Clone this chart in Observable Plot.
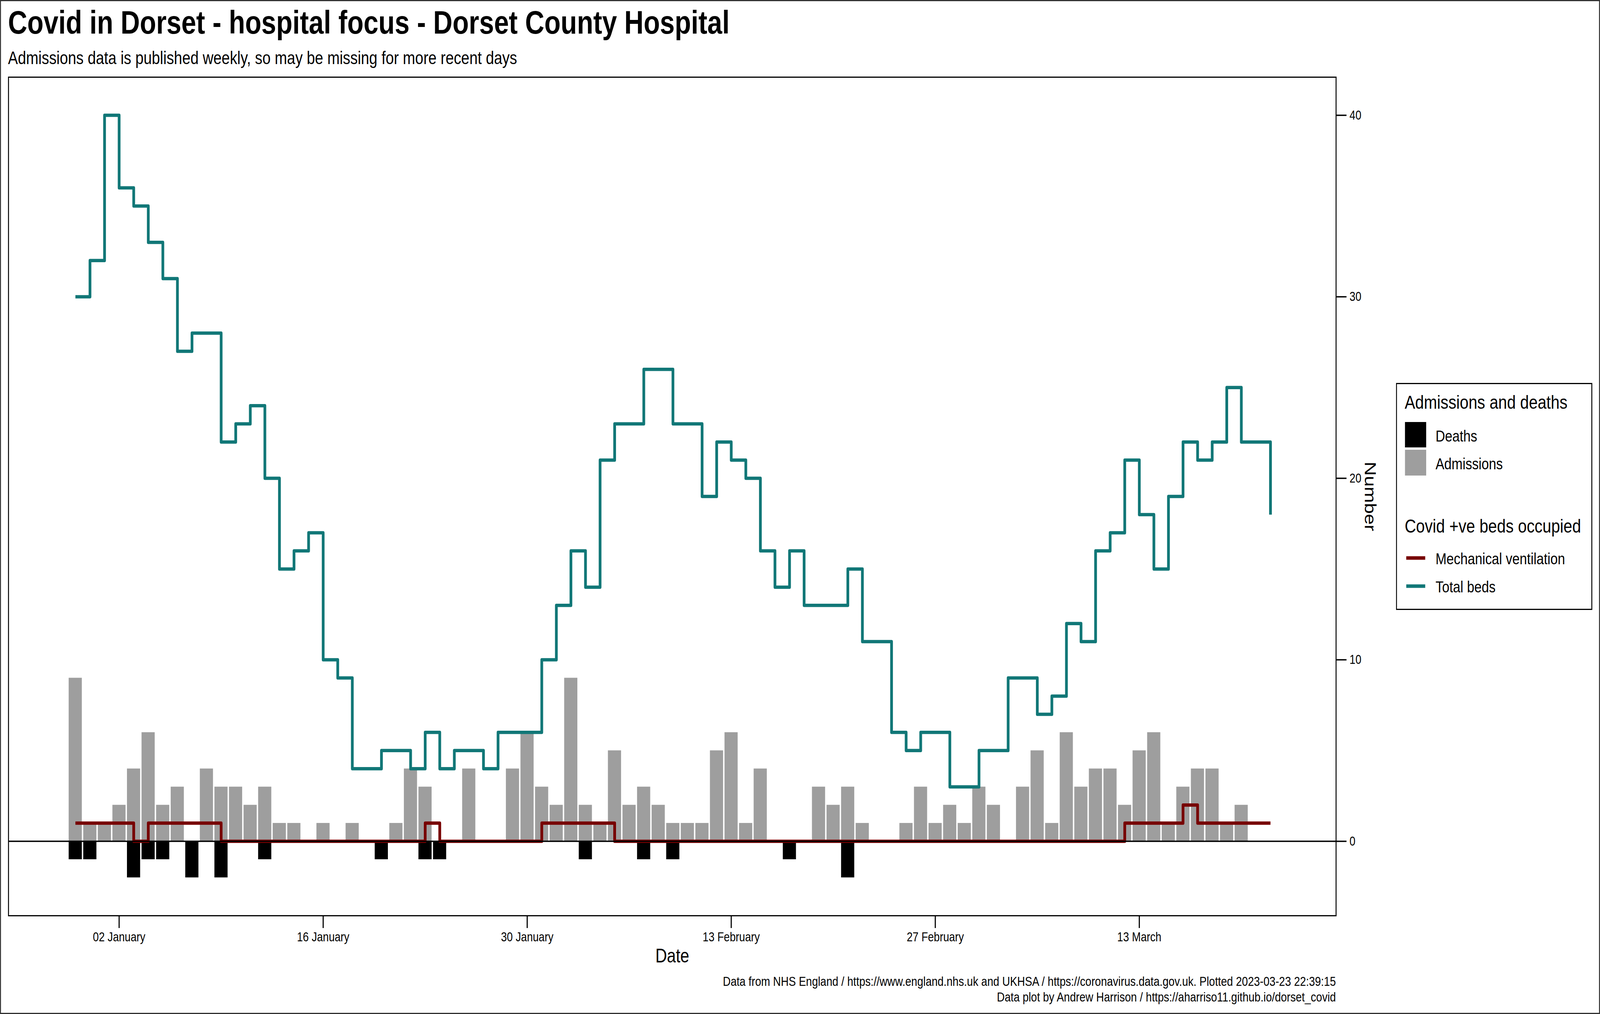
<!DOCTYPE html>
<html>
<head>
<meta charset="utf-8">
<script src="https://cdn.jsdelivr.net/npm/d3@7"></script>
<script src="https://cdn.jsdelivr.net/npm/@observablehq/plot@0.6"></script>
<style>
  html, body { margin: 0; padding: 0; background: white; overflow: hidden; }
  body { font-family: "Liberation Sans", Arial, sans-serif; color: black; }
  #page { width: 4980px; height: 2595px; position: relative; transform-origin: 0 0; background: white; }
  .abs { position: absolute; white-space: nowrap; }
  #title { left: 25px; top: 16px; font-size: 83px; line-height: 83px; font-weight: bold; }
  #subtitle { left: 25px; top: 125px; font-size: 46px; line-height: 46px; }
  #chart { position: absolute; left: 0; top: 180px; }
  .foot { right: 822px; font-size: 33.5px; line-height: 33px; text-align: right; }
  #legend { position: absolute; left: 4345px; top: 980px; }
  #border { position: absolute; left: 0; top: 0; width: 4980px; height: 2595px; box-sizing: border-box; border: 3px solid #333; pointer-events: none; }
</style>
</head>
<body>
<div id="page">
<div id="title" class="abs">Covid in Dorset - hospital focus - Dorset County Hospital</div>
<div id="subtitle" class="abs">Admissions data is published weekly, so may be missing for more recent days</div>
<div id="chart"></div>
<div class="abs foot" style="top:2495px">Data from NHS England / https://www.england.nhs.uk and UKHSA / https://coronavirus.data.gov.uk. Plotted 2023-03-23 22:39:15</div>
<div class="abs foot" style="top:2535px">Data plot by Andrew Harrison / https://aharriso11.github.io/dorset_covid</div>
<div id="legend"></div>
<div id="border"></div>
</div>
<script>
// ---- data (daily, starting 30 December 2022) ----
const startDate = "2022-12-30";

// Daily admissions, 30 Dec 2022 .. 20 Mar 2023
const admissions = [9,1,1,2,4,6,2,3,0,4,3,3,2,3,1,1,0,1,0,1,0,0,1,4,3,0,0,4,0,0,
  4,6,3,2,9,2,1,5,2,3,2,1,1,1,5,6,1,4,0,0,0,3,2,3,1,0,0,1,3,1,
  2,1,3,2,0,3,5,1,6,3,4,4,2,5,6,1,3,4,4,1,2];

// Daily deaths, 30 Dec 2022 .. 20 Mar 2023 (drawn below zero)
const deaths = [1,1,0,0,2,1,1,0,2,0,2,0,0,1,0,0,0,0,0,0,0,1,0,0,1,1,0,0,0,0,
  0,0,0,0,0,1,0,0,0,1,0,1,0,0,0,0,0,0,0,1,0,0,0,2,0,0,0,0,0,0,
  0,0,0,0,0,0,0,0,0,0,0,0,0,0,0,0,0,0,0,0,0];

// Covid +ve beds on mechanical ventilation, 30 Dec 2022 .. 22 Mar 2023
const ventilation = [1,1,1,1,0,1,1,1,1,1,0,0,0,0,0,0,0,0,0,0,0,0,0,0,1,0,0,0,0,0,
  0,0,1,1,1,1,1,0,0,0,0,0,0,0,0,0,0,0,0,0,0,0,0,0,0,0,0,0,0,0,
  0,0,0,0,0,0,0,0,0,0,0,0,1,1,1,1,2,1,1,1,1,1,1];

// Covid +ve total beds occupied, 30 Dec 2022 .. 22 Mar 2023
const totalBeds = [30,32,40,36,35,33,31,27,28,28,22,23,24,20,15,16,17,10,9,4,4,5,5,4,6,4,5,5,4,6,
  6,6,10,13,16,14,21,23,23,26,26,23,23,19,22,21,20,16,14,16,13,13,13,15,11,11,6,5,6,6,
  3,3,5,5,9,9,7,8,12,11,16,17,21,18,15,19,22,21,22,25,22,22,18];

const xTicks = ["2023-01-02","2023-01-16","2023-01-30","2023-02-13","2023-02-27","2023-03-13"];
const yTicks = [0, 10, 20, 30, 40];

// ---- map the 4980x2595 layout onto the viewport we actually get ----
const vw = document.documentElement.clientWidth || window.innerWidth || 4980;
const vh = window.innerHeight || document.documentElement.clientHeight || 2595;
const sx = vw / 4980;
const sy = vh / 2595;
document.getElementById("page").style.transform = `scale(${sx}, ${sy})`;
document.body.style.width = vw + "px";
document.body.style.height = vh + "px";

// ---- build tables ----
const DAY = 864e5;
const start = new Date(startDate + "T00:00:00Z");
const dayOf = i => d3.utcDay.offset(start, i);
const toRows = arr => arr.map((v, i) => ({date: dayOf(i), value: v}));
const admRows = toRows(admissions);
const deathRows = toRows(deaths);
const ventRows = toRows(ventilation);
const bedRows = toRows(totalBeds);

const half = d => new Date(+d.date - DAY / 2);
const halfEnd = d => new Date(+d.date + DAY / 2);

const chart = Plot.plot({
  width: 4980,
  height: 2300,
  marginTop: 17,
  marginBottom: 137,
  marginLeft: 26,
  marginRight: 822,
  style: {fontFamily: "'Liberation Sans', Arial, sans-serif", fontSize: "33px", background: "white", overflow: "visible", color: "black"},
  x: {type: "utc", domain: [new Date(+start - 4.59 * DAY), new Date(+start + 86.5 * DAY)]},
  y: {domain: [-4.1, 42.1]},
  marks: [
    Plot.rect(admRows, {x1: half, x2: halfEnd, y1: 0, y2: "value", fill: "#9E9E9E", insetLeft: 2.2, insetRight: 2.2}),
    Plot.rect(deathRows.filter(d => d.value > 0), {x1: half, x2: halfEnd, y1: 0, y2: d => -d.value, fill: "black", insetLeft: 2.2, insetRight: 2.2}),
    Plot.line(ventRows, {x: "date", y: "value", curve: "step-after", stroke: "#770000", strokeWidth: 8.5, strokeLinecap: "butt", strokeLinejoin: "round"}),
    Plot.line(bedRows, {x: "date", y: "value", curve: "step-after", stroke: "#117777", strokeWidth: 8.5, strokeLinecap: "butt", strokeLinejoin: "round"}),
    Plot.ruleY([0], {stroke: "black", strokeWidth: 3.5}),
    Plot.frame({stroke: "black", strokeWidth: 3}),
    Plot.axisX({ticks: xTicks.map(t => new Date(t + "T00:00:00Z")), tickFormat: d3.utcFormat("%d %B"), tickSize: 32, tickPadding: 10, strokeWidth: 3.5, label: null, fontSize: 33}),
    Plot.axisY({anchor: "right", ticks: yTicks, tickSize: 32, tickPadding: 10, strokeWidth: 3.5, label: null, fontSize: 33}),
    Plot.text(["Date"], {text: d => d, frameAnchor: "bottom", lineAnchor: "middle", textAnchor: "middle", dy: 103, fontSize: 50}),
    Plot.text(["Number"], {text: d => d, frameAnchor: "right", lineAnchor: "middle", textAnchor: "middle", dx: 105, rotate: 90, fontSize: 50})
  ]
});
document.getElementById("chart").appendChild(chart);

// ---- legend ----
const legendGroups = [
  {title: "Admissions and deaths", items: [{label: "Deaths", fill: "black"}, {label: "Admissions", fill: "#9E9E9E"}]},
  {title: "Covid +ve beds occupied", items: [{label: "Mechanical ventilation", stroke: "#770000"}, {label: "Total beds", stroke: "#117777"}]}
];
const ns = "http://www.w3.org/2000/svg";
const lg = document.createElementNS(ns, "svg");
lg.setAttribute("width", 612);
lg.setAttribute("height", 582);
lg.style.fontFamily = "'Liberation Sans', Arial, sans-serif";
function el(tag, attrs, text) {
  const e = document.createElementNS(ns, tag);
  for (const k in attrs) e.setAttribute(k, attrs[k]);
  if (text != null) e.textContent = text;
  lg.appendChild(e);
  return e;
}
el("rect", {x: 1.5, y: 1.5, width: 608, height: 578, fill: "white", stroke: "black", "stroke-width": 3});
el("text", {x: 27, y: 66, "font-size": 49}, legendGroups[0].title);
el("rect", {x: 28, y: 100, width: 66, height: 65, fill: legendGroups[0].items[0].fill});
el("rect", {x: 28, y: 171, width: 66, height: 66, fill: legendGroups[0].items[1].fill});
el("text", {x: 123, y: 150, "font-size": 41}, legendGroups[0].items[0].label);
el("text", {x: 123, y: 221, "font-size": 41}, legendGroups[0].items[1].label);
el("text", {x: 27, y: 383, "font-size": 49}, legendGroups[1].title);
el("line", {x1: 32, x2: 91, y1: 448, y2: 448, stroke: legendGroups[1].items[0].stroke, "stroke-width": 9});
el("line", {x1: 32, x2: 91, y1: 520, y2: 520, stroke: legendGroups[1].items[1].stroke, "stroke-width": 9});
el("text", {x: 123, y: 464, "font-size": 41}, legendGroups[1].items[0].label);
el("text", {x: 123, y: 536, "font-size": 41}, legendGroups[1].items[1].label);
document.getElementById("legend").appendChild(lg);
</script>
</body>
</html>
